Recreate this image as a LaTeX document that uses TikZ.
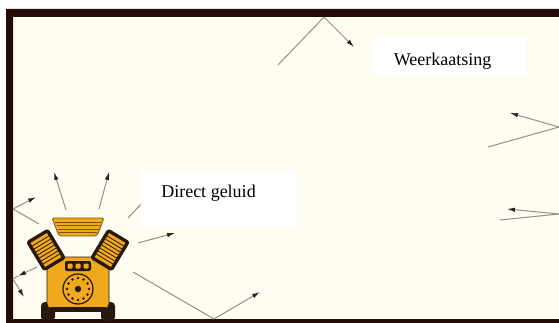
\documentclass[tikz,border=0pt]{standalone}
\usepackage{fontspec}
\setmainfont{Liberation Serif}
\usetikzlibrary{arrows.meta}

\definecolor{wallbrown}{RGB}{35,12,8}
\definecolor{roomcream}{RGB}{255,253,241}
\definecolor{pumporange}{RGB}{240,168,28}
\definecolor{pumpdark}{RGB}{40,24,14}
\definecolor{raygray}{RGB}{150,144,132}

\tikzset{
  ray/.style={raygray,line width=1pt},
  rayarrow/.style={ray,-{Latex[length=8pt,width=4.5pt,color=black!85]}},
  labelbox/.style={fill=white,inner sep=0pt},
  labeltext/.style={font=\fontsize{18}{20}\selectfont,inner sep=0pt,anchor=base},
  fin/.style={pumpdark,line width=.8pt}
}

\begin{document}
\begin{tikzpicture}[x=1pt,y=-1pt]
  \useasboundingbox (0,0) rectangle (559,323);
  % room with walls
  \fill[white] (0,0) rectangle (559,323);
  \fill[roomcream] (13,17) rectangle (559,319);
  \fill[wallbrown] (6,9) rectangle (559,17) (6,9) rectangle (13,323) (6,319) rectangle (559,323);

  % compressor
  \fill[pumpdark,rounded corners=4] (41,321) -- (41,302) -- (55,302) -- (55,321) -- cycle;
  \fill[pumpdark,rounded corners=4] (101,321) -- (101,302) -- (115,302) -- (115,321) -- cycle;
  \draw[fill=pumporange,draw=pumpdark,line width=.8pt,rounded corners=5]
    (47,309) -- (47,262) -- (60,257) -- (96,257) -- (109,262) -- (109,309) -- cycle;
  \fill[pumpdark] (50,307) rectangle (106,312);
  \foreach \cx/\rot in {46/-59,110/59}{
    \begin{scope}[shift={(\cx,250)},rotate=\rot]
      \fill[pumpdark,rounded corners=3] (-17.5,-13) rectangle (17.5,13);
      \fill[pumporange] (-14,-9.5) rectangle (14,9.5);
      \foreach \u in {-10.5,-7,...,11}
        \draw[fin] (\u,-9.5) -- (\u,9.5);
    \end{scope}
  }
  \draw[fill=pumporange,draw=pumpdark!60!pumporange,line width=.8pt,rounded corners=2]
    (52,218) -- (104,218) -- (97,236) -- (59,236) -- cycle;
  \foreach \y/\l in {222/54,225.5/55.5,229/56.5,232.5/58}
    \draw[pumpdark!60!pumporange,line width=.8pt] (\l+1,\y) -- (156-\l-1,\y);
  \fill[pumpdark,rounded corners=2] (65,261) rectangle (91,271);
  \foreach \x in {70,78,86}
    \fill[pumporange,rounded corners=1] (\x-2.5,263.5) rectangle (\x+2.5,268.5);
  \draw[fill=pumporange,draw=pumpdark,line width=1.2pt] (78,289) circle (15);
  \foreach \a in {0,30,...,330}
    \fill[pumpdark] (78,289) ++(\a:11) circle (1.3);
  \fill[pumpdark] (78,289) circle (3.2);

  % sound rays
  \coordinate (up1-a) at (66,210);   \coordinate (up1-b) at (54,172);
  \coordinate (up2-a) at (99,209);   \coordinate (up2-b) at (109,172);
  \coordinate (diag-a) at (128,218); \coordinate (diag-b) at (144,201);
  \coordinate (fwd-a) at (138,243);  \coordinate (fwd-b) at (175,233);
  \coordinate (lw2-a) at (37,267);   \coordinate (lw2-b) at (18,276);
  \coordinate (floor-a) at (133,272); \coordinate (floor-hit) at (214,319); \coordinate (floor-b) at (260,292);
  \coordinate (lw1-a) at (39,224);   \coordinate (lw1-hit) at (13,209);    \coordinate (lw1-b) at (36,197);
  \coordinate (lw3-a) at (18,276);   \coordinate (lw3-hit) at (13,279);    \coordinate (lw3-b) at (24,297);
  \coordinate (roof-a) at (278,65);  \coordinate (roof-hit) at (324,17);   \coordinate (roof-b) at (354,47);
  \coordinate (rw1-a) at (488,147);  \coordinate (rw1-hit) at (559,127);   \coordinate (rw1-b) at (510,113);
  \coordinate (rw2-a) at (500,220);  \coordinate (rw2-hit) at (559,214);   \coordinate (rw2-b) at (507,209);

  \foreach \n in {up1,up2,fwd,lw2}
    \draw[rayarrow] (\n-a) -- (\n-b);
  \draw[ray] (diag-a) -- (diag-b);
  \foreach \n in {floor,lw1,lw3,roof,rw1,rw2}{
    \draw[ray] (\n-a) -- (\n-hit);
    \draw[rayarrow] (\n-hit) -- (\n-b);
  }

  % labels
  \node[labelbox,minimum width=154,minimum height=56] (dbox) at (218,199) {};
  \node[labeltext] (dtext) at (208.5,197) {Direct geluid};
  \node[labelbox,minimum width=154,minimum height=38] (wbox) at (449,56) {};
  \node[labeltext] (wtext) at (442.5,66) {Weerkaatsing};
\end{tikzpicture}
\end{document}
